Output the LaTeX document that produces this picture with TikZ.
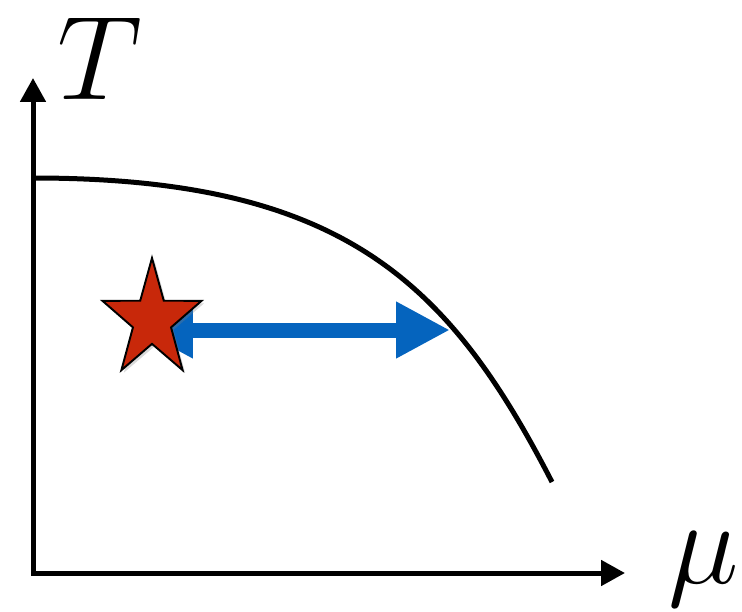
\documentclass[tikz,border=0pt]{standalone}
\usepackage{amsmath}
\usepackage{graphicx}
\usepackage{tikz}
\usetikzlibrary{arrows.meta,shapes.geometric,shadows}
\definecolor{starred}{RGB}{200,40,10}
\definecolor{scanblue}{RGB}{5,100,190}
\newcommand{\biglbl}[1]{\scalebox{2.733}{\fontsize{24.88}{30}\selectfont #1}}

\begin{document}
\begin{tikzpicture}[
		x=0.02cm, y=-0.02cm,
		axis/.style={line width=0.1cm, line cap=rect, -{Triangle[length=0.48cm, width=0.5cm]}},
		lbl/.style={inner sep=0pt},
		crit/.style={line width=0.1cm},
		scan/.style={scanblue, line width=0.3cm,
			{Triangle[length=1.08cm, width=1.06cm]}-{Triangle[length=1.08cm, width=1.06cm]}},
		startpt/.style={star, star points=5, star point ratio=2.6, minimum size=2.48cm,
			inner sep=0pt, draw=black, line width=1.1pt, fill=starred,
			xscale=0.84, transform shape,
			drop shadow={opacity=0.3, shadow xshift=0.05cm, shadow yshift=-0.05cm}}
		]
		
		\useasboundingbox (0,0) rectangle (742,611);
		
		% -------------------------
		% Axes
		% -------------------------
		\coordinate (O) at (33,573);
		\coordinate (Ttip) at (33,78);
		\coordinate (mutip) at (625,573);
		\draw[axis] (O) -- (Ttip);
		\draw[axis] (O) -- (mutip);
		
		\node[lbl, anchor=base] (Tlbl) at (100,100) {\biglbl{$T$}};
		\node[lbl, anchor=base west] (mulbl) at (668,583) {\biglbl{$\mu$}};
		
		% -------------------------
		% Transition line
		% -------------------------
		\coordinate (c0) at (33,178);
		\coordinate (c1) at (552,482);
		\draw[crit] (c0) .. controls (343,178) and (449,282) .. (c1);
		
		% -------------------------
		% Scan towards the line
		% -------------------------
		\coordinate (hit) at (450,328);
		\coordinate (back) at (139,330);
		\draw[scan] (back) -- (hit |- back);
		
		\node[startpt] (start) at (152,320) {};
		
	\end{tikzpicture}
\end{document}
